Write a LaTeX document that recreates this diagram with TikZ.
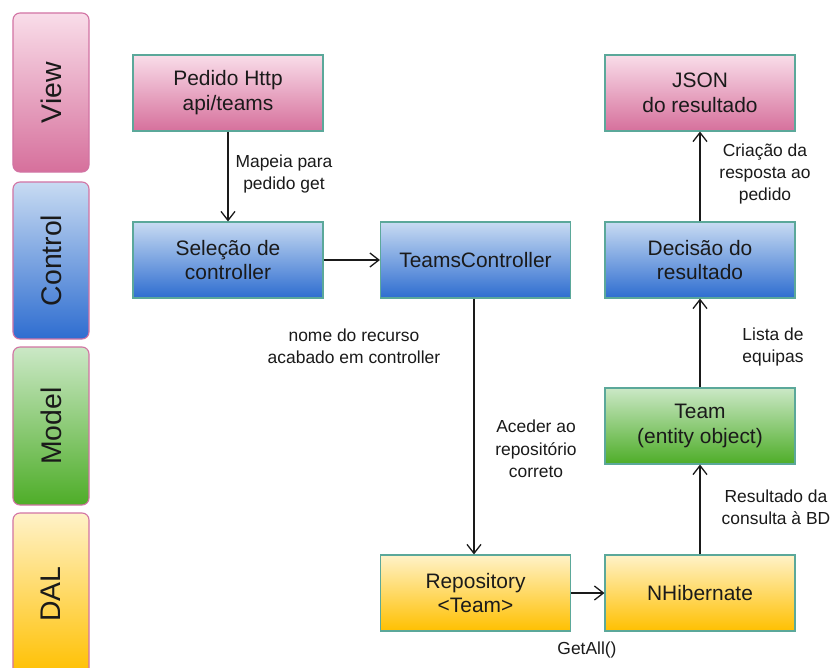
\documentclass[tikz,border=0pt]{standalone}
\usepackage{fontspec}
\setmainfont{Liberation Sans}
\usetikzlibrary{arrows.meta}

\definecolor{txt}{HTML}{1A1A1A}
\definecolor{boxline}{HTML}{5BA89A}
\definecolor{layerline}{HTML}{D274A4}
\definecolor{pinkA}{HTML}{F9DDE9}
\definecolor{pinkB}{HTML}{D6709C}
\definecolor{blueA}{HTML}{C8DBF2}
\definecolor{blueB}{HTML}{2E6DD0}
\definecolor{greenA}{HTML}{CBE8C6}
\definecolor{greenB}{HTML}{4EAD28}
\definecolor{yellA}{HTML}{FFF2C8}
\definecolor{yellB}{HTML}{FFC000}

\tikzset{
  stage/.style={draw=boxline, line width=1.1bp, minimum width=190bp, minimum height=76bp,
    inner sep=0pt, align=center, text=txt, font=\fontsize{21}{25}\selectfont},
  viewbox/.style={stage, top color=pinkA, bottom color=pinkB},
  ctrlbox/.style={stage, top color=blueA, bottom color=blueB},
  modelbox/.style={stage, top color=greenA, bottom color=greenB},
  dalbox/.style={stage, top color=yellA, bottom color=yellB},
  layer/.style={draw=layerline, line width=1.1bp, rounded corners=7bp, rotate=90,
    minimum height=76bp, inner sep=0pt, text=txt, font=\fontsize{28.5}{34}\selectfont},
  flow/.style={draw=txt, line width=1.3bp, -{Straight Barb[length=9bp,width=14bp,line width=1.3bp]}},
  note/.style={align=center, text=txt, font=\fontsize{17.5}{22.5}\selectfont, inner sep=0pt},
}

\begin{document}
\begin{tikzpicture}[x=1bp, y=-1bp]
  \fill[white] (0,0) rectangle (834,668);
  \useasboundingbox (0,0) rectangle (834,668);

  % layer column
  \node[layer, minimum width=159bp, top color=pinkA, bottom color=pinkB] (lview) at (51,92.5) {View};
  \node[layer, minimum width=157bp, top color=blueA, bottom color=blueB] (lctrl) at (51,260.5) {Control};
  \node[layer, minimum width=158bp, top color=greenA, bottom color=greenB] (lmodel) at (51,426) {Model};
  \node[layer, minimum width=162bp, top color=yellA, bottom color=yellB] (ldal) at (51,594) {DAL};

  % stages
  \node[viewbox] (http) at (228,93) {Pedido Http\\api/teams};
  \node[ctrlbox] (sel) at (228,260) {Seleção de\\controller};
  \node[ctrlbox] (tc) at (475.5,260) {TeamsController};
  \node[viewbox] (json) at (700,93) {JSON\\do resultado};
  \node[ctrlbox] (dec) at (700,260) {Decisão do\\resultado};
  \node[modelbox] (team) at (700,426) {Team\\(entity object)};
  \node[dalbox] (repo) at (475.5,593) {Repository\\<Team>};
  \node[dalbox] (nh) at (700,593) {NHibernate};

  % connectors
  \draw[flow] (http) -- (sel);
  \draw[flow] (sel) -- (tc);
  \draw[flow] (tc.south -| 474,0) -- (repo.north -| 474,0);
  \draw[flow] (repo) -- (nh);
  \draw[flow] (nh) -- (team);
  \draw[flow] (team) -- (dec);
  \draw[flow] (dec) -- (json);

  % connector notes
  \node[note] (n1) at (284,174) {Mapeia para\\pedido get};
  \node[note] (n2) at (354,346) {nome do recurso\\acabado em controller};
  \node[note] (n3) at (536,449) {Aceder ao\\repositório\\correto};
  \node[note] (n4) at (587,650) {GetAll()};
  \node[note] (n5) at (776,507) {Resultado da\\consulta à BD};
  \node[note] (n6) at (773,347) {Lista de\\equipas};
  \node[note] (n7) at (765,174) {Criação da\\resposta ao\\pedido};
\end{tikzpicture}
\end{document}
